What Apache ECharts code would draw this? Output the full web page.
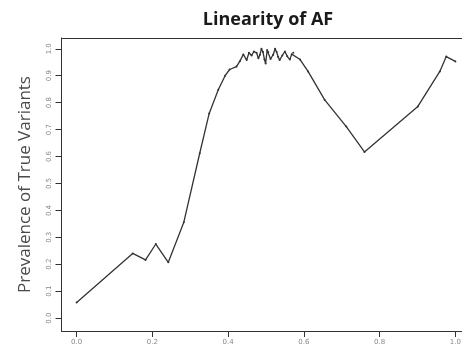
<!DOCTYPE html>
<html>
<head>
<meta charset="utf-8">
<script src="https://cdn.jsdelivr.net/npm/echarts@6/dist/echarts.min.js"></script>
<style>
  html, body { margin: 0; padding: 0; background: #fff; }
  #chart { width: 462px; height: 350px; }
</style>
</head>
<body>
<div id="chart"></div>
<script>
// Allele frequency (x) vs prevalence of true variants (y)
const afValues = [
  0.0, 0.148, 0.182, 0.209, 0.242, 0.283, 0.325, 0.350, 0.374, 0.392, 0.404, 0.422,
  0.431, 0.440, 0.449, 0.455, 0.462, 0.468, 0.475, 0.480, 0.484, 0.488, 0.492, 0.496,
  0.499, 0.503, 0.506, 0.512, 0.519, 0.524, 0.528, 0.532, 0.536, 0.543, 0.550, 0.556,
  0.563, 0.568, 0.572, 0.590, 0.611, 0.655, 0.712, 0.760, 0.901, 0.959, 0.976, 1.0
];
const prevalence = [
  0.058, 0.240, 0.216, 0.275, 0.207, 0.356, 0.612, 0.760, 0.848, 0.900, 0.923, 0.934,
  0.954, 0.979, 0.958, 0.985, 0.975, 0.990, 0.985, 0.965, 0.978, 1.000, 0.988, 0.960,
  0.945, 0.995, 0.988, 0.962, 0.978, 1.000, 0.988, 0.970, 0.958, 0.975, 0.990, 0.972,
  0.960, 0.980, 0.985, 0.960, 0.916, 0.810, 0.711, 0.617, 0.786, 0.916, 0.971, 0.953
];
const xTicks = [0.0, 0.2, 0.4, 0.6, 0.8, 1.0];
const yTicks = [0.0, 0.1, 0.2, 0.3, 0.4, 0.5, 0.6, 0.7, 0.8, 0.9, 1.0];

const points = afValues.map((v, i) => [v, prevalence[i]]);

const frameLine = { show: true, onZero: false, lineStyle: { color: '#333', width: 1 } };

const chart = echarts.init(document.getElementById('chart'), null, { renderer: 'canvas' });
chart.setOption({
  animation: false,
  backgroundColor: '#ffffff',
  title: {
    text: 'Linearity of AF',
    left: 263,
    top: 6,
    textAlign: 'center',
    textStyle: {
      fontFamily: 'Open Sans',
      fontWeight: 'bold',
      fontSize: 18,
      color: '#1a1a1a'
    }
  },
  grid: {
    left: 61.5,
    top: 38,
    width: 409,
    height: 293,
    show: false,
    containLabel: false,
    outerBoundsMode: 'none'
  },
  xAxis: [{
    type: 'value',
    position: 'bottom',
    min: -0.04,
    max: 1.04,
    splitLine: { show: false },
    axisLine: frameLine,
    axisTick: {
      show: true,
      inside: false,
      length: 6,
      customValues: xTicks,
      lineStyle: { color: '#333', width: 1 }
    },
    axisLabel: {
      customValues: xTicks,
      formatter: v => v.toFixed(1),
      fontSize: 7,
      color: '#888',
      margin: 8,
      fontFamily: 'DejaVu Sans'
    }
  }, {
    // top edge of the plotting frame
    type: 'value',
    position: 'top',
    min: -0.04,
    max: 1.04,
    splitLine: { show: false },
    axisLine: frameLine,
    axisTick: { show: false },
    axisLabel: { show: false }
  }],
  yAxis: {
    type: 'value',
    min: -0.048,
    max: 1.04,
    name: 'Prevalence of True Variants',
    nameLocation: 'middle',
    nameGap: 28,
    nameRotate: 90,
    nameTextStyle: {
      fontFamily: 'Open Sans',
      fontSize: 17,
      color: '#4a4a4a'
    },
    splitLine: { show: false },
    axisLine: frameLine,
    axisTick: {
      show: true,
      inside: false,
      length: 6,
      customValues: yTicks,
      lineStyle: { color: '#333', width: 1 }
    },
    axisLabel: {
      customValues: yTicks,
      formatter: v => v.toFixed(1),
      rotate: 90,
      fontSize: 7,
      color: '#888',
      margin: 9,
      fontFamily: 'DejaVu Sans'
    }
  },
  series: [{
    type: 'line',
    xAxisIndex: 0,
    data: points,
    showSymbol: true,
    symbol: 'circle',
    symbolSize: 2,
    itemStyle: { color: '#333' },
    lineStyle: { color: '#333', width: 1.3 },
    silent: true
  }]
});
</script>
</body>
</html>
